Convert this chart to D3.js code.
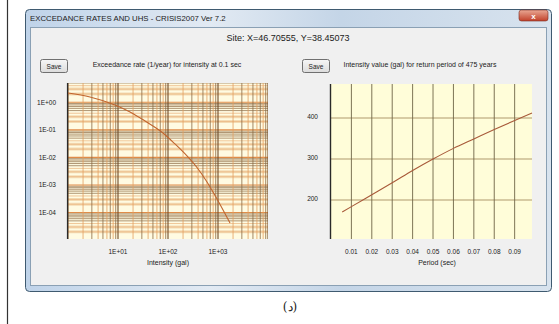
<!DOCTYPE html>
<html>
<head>
<meta charset="utf-8">
<script src="https://cdn.jsdelivr.net/npm/d3@7"></script>
<style>
  body { margin: 0; background: #fff; }
  text { font-family: "Liberation Sans", Arial, sans-serif; fill: #222; }
</style>
</head>
<body>
<div id="chart"></div>
<script>
const width = 559;
const height = 324;

// left chart: exceedance rate curve (log-log)
const hazardIntensity = [1, 2.75, 8.7, 17.4, 34.7, 79.4, 138, 240, 380, 603, 955, 1738];
const hazardRate = [2.17, 1.56, 0.80, 0.445, 0.21, 0.077, 0.0308, 0.0113, 0.00432, 0.00129, 0.000311, 0.000042];
const hazardXTicks = [10, 100, 1000];
const hazardXLabels = ["1E+01", "1E+02", "1E+03"];
const hazardYTicks = [1, 0.1, 0.01, 0.001, 0.0001];
const hazardYLabels = ["1E+00", "1E-01", "1E-02", "1E-03", "1E-04"];

// right chart: uniform hazard spectrum
const uhsPeriod = [0.0055, 0.01, 0.02, 0.03, 0.04, 0.05, 0.06, 0.07, 0.08, 0.09, 0.0985];
const uhsIntensity = [171, 184, 213, 242, 272, 300, 326, 349, 372, 394, 412];
const uhsXTicks = [0.01, 0.02, 0.03, 0.04, 0.05, 0.06, 0.07, 0.08, 0.09];
const uhsYTicks = [200, 300, 400];

const svg = d3.select("#chart").append("svg")
  .attr("width", width)
  .attr("height", height)

const defs = svg.append("defs");
const frameGrad = defs.append("linearGradient").attr("id", "frame").attr("x1", 0).attr("x2", 1).attr("y1", 0).attr("y2", 0);
frameGrad.append("stop").attr("offset", "0%").attr("stop-color", "#bfd3e9");
frameGrad.append("stop").attr("offset", "35%").attr("stop-color", "#e2eaf3");
frameGrad.append("stop").attr("offset", "60%").attr("stop-color", "#c4d5e7");
frameGrad.append("stop").attr("offset", "100%").attr("stop-color", "#d8e3ee");
const redGrad = defs.append("linearGradient").attr("id", "red").attr("x1", 0).attr("x2", 0).attr("y1", 0).attr("y2", 1);
redGrad.append("stop").attr("offset", "0%").attr("stop-color", "#e9a894");
redGrad.append("stop").attr("offset", "100%").attr("stop-color", "#c2412a");
const btnGrad = defs.append("linearGradient").attr("id", "btn").attr("x1", 0).attr("x2", 0).attr("y1", 0).attr("y2", 1);
btnGrad.append("stop").attr("offset", "0%").attr("stop-color", "#f6f6f6");
btnGrad.append("stop").attr("offset", "100%").attr("stop-color", "#dcdcdc");

// page border line
svg.append("line")
  .attr("x1", 7.5).attr("x2", 7.5).attr("y1", 0).attr("y2", height)
  .attr("stroke", "#333").attr("stroke-width", 1.2)

// window frame
svg.append("rect")
  .attr("x", 25.5).attr("y", 9.5).attr("width", 526).attr("height", 282)
  .attr("rx", 4)
  .attr("fill", "url(#frame)")
  .attr("stroke", "#3f5a70")
svg.append("rect")
  .attr("x", 30.5).attr("y", 27.5).attr("width", 516).attr("height", 258)
  .attr("fill", "#f0f0f0")
  .attr("stroke", "#8aa0b4")

svg.append("text")
  .attr("x", 30).attr("y", 21)
  .style("font-size", "7.8px")
  .text("EXCCEDANCE RATES AND UHS - CRISIS2007 Ver 7.2")

// close button
svg.append("rect")
  .attr("x", 519).attr("y", 10).attr("width", 29).attr("height", 11)
  .attr("rx", 2.5)
  .attr("fill", "url(#red)")
  .attr("stroke", "#7a2a1e").attr("stroke-width", 0.6)
svg.append("text")
  .attr("x", 533.5).attr("y", 18.5)
  .attr("text-anchor", "middle")
  .style("font-size", "8px").style("font-weight", "bold").style("fill", "#fff")
  .text("x")

svg.append("text")
  .attr("x", 288).attr("y", 41)
  .attr("text-anchor", "middle")
  .style("font-size", "9px")
  .text("Site: X=46.70555, Y=38.45073")

function saveButton(x) {
  svg.append("rect")
    .attr("x", x + 0.5).attr("y", 59.5).attr("width", 27).attr("height", 13)
    .attr("rx", 2)
    .attr("fill", "url(#btn)")
    .attr("stroke", "#707070")
  svg.append("text")
    .attr("x", x + 14).attr("y", 68.5)
    .attr("text-anchor", "middle")
    .style("font-size", "6.5px")
    .text("Save")
}
saveButton(40);
saveButton(302);

// ---------- left chart ----------
const xL = d3.scaleLog().domain([1, 1e4]).range([68, 268]);
const yL = d3.scaleLog().domain([1.1e-5, 5]).range([239, 83]);

const left = svg.append("g");
left.append("rect")
  .attr("x", 68).attr("y", 83).attr("width", 200).attr("height", 156)
  .attr("fill", "#fffbe2")

const clipL = defs.append("clipPath").attr("id", "clipL");
clipL.append("rect").attr("x", 68).attr("y", 83).attr("width", 200).attr("height", 156);
const gridL = left.append("g").attr("clip-path", "url(#clipL)");

// horizontal log grid
const hLines = [];
for (let e = -5; e <= 0; e++) {
  for (let m = 1; m <= 9; m++) hLines.push({ v: m * Math.pow(10, e), m: m });
}
gridL.selectAll(".hband")
  .data(hLines.filter(d => d.m === 2 || d.m === 3))
  .enter().append("line")
  .attr("x1", 68).attr("x2", 268)
  .attr("y1", d => yL(d.v)).attr("y2", d => yL(d.v))
  .attr("stroke", "#f4dcb4").attr("stroke-width", 3)
gridL.selectAll(".hline")
  .data(hLines)
  .enter().append("line")
  .attr("x1", 68).attr("x2", 268)
  .attr("y1", d => yL(d.v)).attr("y2", d => yL(d.v))
  .attr("stroke", d => d.m === 1 ? "#e08c48" : (d.m < 5 ? "#eab078" : "#8c6a44"))
  .attr("stroke-width", d => d.m === 1 ? 1.1 : 0.7)

// vertical log grid
const vLines = [];
for (let e = 0; e <= 3; e++) {
  for (let m = 1; m <= 9; m++) vLines.push({ v: m * Math.pow(10, e), m: m });
}
vLines.push({ v: 1e4, m: 1 });
gridL.selectAll(".vline")
  .data(vLines)
  .enter().append("line")
  .attr("x1", d => xL(d.v)).attr("x2", d => xL(d.v))
  .attr("y1", 83).attr("y2", 239)
  .attr("stroke", d => d.m === 1 ? "#6e4c2a" : (d.m % 2 === 0 ? "#e2a060" : "#8c6a44"))
  .attr("stroke-width", d => d.m === 1 ? 1.1 : 0.8)

left.append("line")
  .attr("x1", 67.5).attr("x2", 67.5).attr("y1", 83).attr("y2", 239)
  .attr("stroke", "#2a2a2a").attr("stroke-width", 1.2)

const hazardLine = d3.line()
  .x(d => xL(d[0]))
  .y(d => yL(d[1]))
  .curve(d3.curveMonotoneX);
left.append("path")
  .datum(d3.zip(hazardIntensity, hazardRate))
  .attr("d", hazardLine)
  .attr("fill", "none")
  .attr("stroke", "#c0652e")
  .attr("stroke-width", 1.1)

left.selectAll(".ylab")
  .data(hazardYTicks)
  .enter().append("text")
  .attr("x", 56).attr("y", d => yL(d) + 2.5)
  .attr("text-anchor", "end")
  .style("font-size", "6.5px")
  .text((d, i) => hazardYLabels[i])

left.selectAll(".xlab")
  .data(hazardXTicks)
  .enter().append("text")
  .attr("x", d => xL(d)).attr("y", 253.5)
  .attr("text-anchor", "middle")
  .style("font-size", "6.5px")
  .text((d, i) => hazardXLabels[i])

left.append("text")
  .attr("x", 168).attr("y", 264.5)
  .attr("text-anchor", "middle")
  .style("font-size", "7px")
  .text("Intensity (gal)")

left.append("text")
  .attr("x", 167).attr("y", 67)
  .attr("text-anchor", "middle")
  .style("font-size", "7px")
  .text("Exceedance rate (1/year) for intensity at 0.1 sec")

// ---------- right chart ----------
const xR = d3.scaleLinear().domain([0, 0.0985]).range([331, 532]);
const yR = d3.scaleLinear().domain([105, 483]).range([239, 84]);

const right = svg.append("g");
right.append("rect")
  .attr("x", 331).attr("y", 84).attr("width", 201).attr("height", 155)
  .attr("fill", "#fffdd9")

right.selectAll(".hgrid")
  .data(uhsYTicks)
  .enter().append("line")
  .attr("x1", 331).attr("x2", 532)
  .attr("y1", d => yR(d)).attr("y2", d => yR(d))
  .attr("stroke", "#b09a6e").attr("stroke-width", 1.1)

right.selectAll(".vgrid")
  .data(uhsXTicks)
  .enter().append("line")
  .attr("x1", d => xR(d)).attr("x2", d => xR(d))
  .attr("y1", 84).attr("y2", 239)
  .attr("stroke", "#6e6446").attr("stroke-width", 0.9)

right.append("line")
  .attr("x1", 330.5).attr("x2", 330.5).attr("y1", 84).attr("y2", 239)
  .attr("stroke", "#2a2a2a").attr("stroke-width", 1.4)

const uhsLine = d3.line()
  .x(d => xR(d[0]))
  .y(d => yR(d[1]))
  .curve(d3.curveMonotoneX);
right.append("path")
  .datum(d3.zip(uhsPeriod, uhsIntensity))
  .attr("d", uhsLine)
  .attr("fill", "none")
  .attr("stroke", "#a85a3a")
  .attr("stroke-width", 1.1)

right.selectAll(".ylab")
  .data(uhsYTicks)
  .enter().append("text")
  .attr("x", 318).attr("y", d => yR(d) + 0.5)
  .attr("text-anchor", "end")
  .style("font-size", "6.5px")
  .text(d => d)

right.selectAll(".xlab")
  .data(uhsXTicks)
  .enter().append("text")
  .attr("x", d => xR(d)).attr("y", 253.5)
  .attr("text-anchor", "middle")
  .style("font-size", "6.5px")
  .text(d => d3.format(".2f")(d))

right.append("text")
  .attr("x", 437).attr("y", 264.5)
  .attr("text-anchor", "middle")
  .style("font-size", "7px")
  .text("Period (sec)")

right.append("text")
  .attr("x", 420).attr("y", 67)
  .attr("text-anchor", "middle")
  .style("font-size", "7px")
  .text("Intensity value (gal) for return period of 475 years")

// caption
svg.append("text")
  .attr("x", 290).attr("y", 311)
  .attr("text-anchor", "middle")
  .style("font-family", "'DejaVu Serif', 'Liberation Serif', serif")
  .style("font-size", "12px")
  .text("(د)")
</script>
</body>
</html>
